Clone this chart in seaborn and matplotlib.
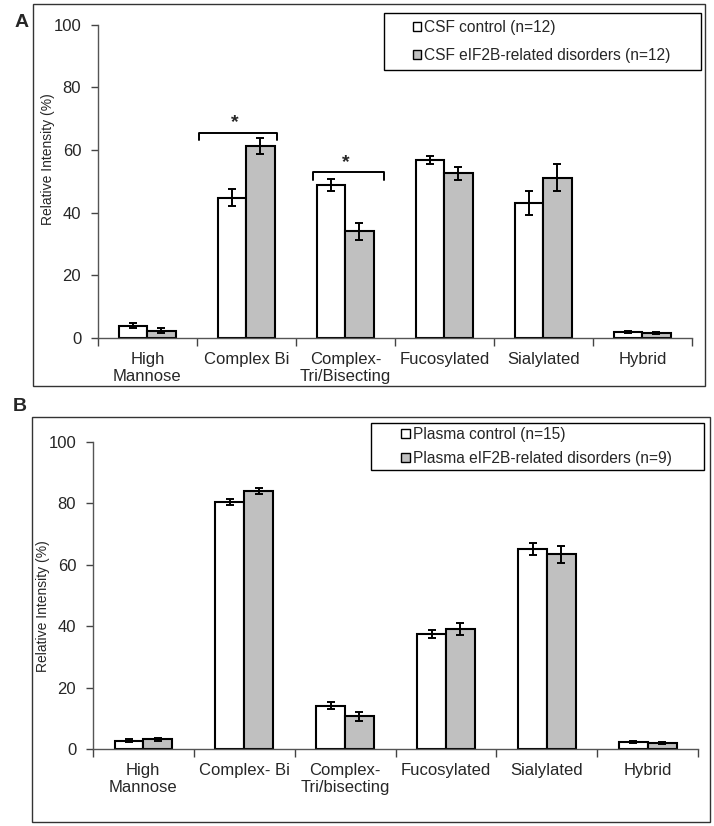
import numpy as np
import pandas as pd
import matplotlib
matplotlib.use('Agg')
import matplotlib.pyplot as plt
from matplotlib.patches import Rectangle, Patch
import seaborn as sns

# data
cats_a = ["High\nMannose", "Complex Bi", "Complex-\nTri/Bisecting", "Fucosylated", "Sialylated", "Hybrid"]
csf_ctrl = [3.9, 44.8, 48.7, 56.9, 43.0, 1.9]
csf_ctrl_err = [0.9, 2.7, 1.9, 1.3, 3.8, 0.4]
csf_dis = [2.3, 61.3, 34.0, 52.5, 51.1, 1.6]
csf_dis_err = [0.8, 2.6, 2.6, 2.1, 4.3, 0.3]
groups_a = ["CSF control (n=12)", "CSF eIF2B-related disorders (n=12)"]

cats_b = ["High\nMannose", "Complex- Bi", "Complex-\nTri/bisecting", "Fucosylated", "Sialylated", "Hybrid"]
pl_ctrl = [2.8, 80.5, 14.2, 37.5, 65.2, 2.4]
pl_ctrl_err = [0.5, 0.9, 1.0, 1.25, 1.9, 0.3]
pl_dis = [3.2, 84.1, 10.7, 39.1, 63.4, 2.1]
pl_dis_err = [0.6, 1.0, 1.4, 1.9, 2.8, 0.3]
groups_b = ["Plasma control (n=15)", "Plasma eIF2B-related disorders (n=9)"]

# significance brackets for panel A: (x_left, x_right, y_top, y_leg, x_star)
brackets_a = [(0.52, 1.31, 65.5, 63.3, 0.88), (1.67, 2.39, 52.9, 50.5, 2.0)]

sns.set_style("ticks")
plt.rcParams['font.family'] = ['Liberation Sans', 'DejaVu Sans']

colors = ["white", "#C0C0C0"]


def make_df(cats, groups, v1, v2):
    return pd.DataFrame({
        "category": cats + cats,
        "group": [groups[0]] * len(cats) + [groups[1]] * len(cats),
        "value": v1 + v2,
    })


def draw_panel(ax, cats, groups, v1, e1, v2, e2, legend_box, spacing, ylab_pos):
    df = make_df(cats, groups, v1, v2)
    sns.barplot(data=df, x="category", y="value", hue="group", palette=colors,
                edgecolor="black", linewidth=1.5, width=0.57, errorbar=None,
                legend=False, ax=ax)
    for cont, err in zip(ax.containers, [e1, e2]):
        xs = [p.get_x() + p.get_width() / 2 for p in cont]
        ys = [p.get_height() for p in cont]
        ax.errorbar(xs, ys, yerr=err, fmt='none', ecolor='black',
                    elinewidth=1.4, capsize=3, capthick=1.4)
    ax.set_ylim(0, 100)
    ax.set_xlim(-0.5, len(cats) - 0.5)
    ax.set_yticks([0, 20, 40, 60, 80, 100])
    ax.set_xticks(np.arange(len(cats)))
    ax.set_xticklabels(cats)
    ax.set_xticks(np.arange(len(cats) + 1) - 0.5, minor=True)
    ax.tick_params(axis='x', which='major', length=0, pad=10, labelsize=12)
    ax.tick_params(axis='x', which='minor', length=6, width=1, color='#444444')
    ax.tick_params(axis='y', length=5, width=1, color='#444444', labelsize=12, pad=7)
    ax.set_xlabel("")
    ax.set_ylabel("Relative Intensity (%)", fontsize=10)
    ax.yaxis.set_label_coords(*ylab_pos)
    for s in ['left', 'bottom']:
        ax.spines[s].set_color('#555555')
        ax.spines[s].set_linewidth(1)
    sns.despine(ax=ax)

    # legend with a separate frame
    bx, by, bw, bh = legend_box
    ax.add_patch(Rectangle((bx, by), bw, bh, transform=ax.transAxes,
                           facecolor='white', edgecolor='black', linewidth=1,
                           clip_on=False, zorder=5))
    handles = [Patch(facecolor=c, edgecolor='black', linewidth=1) for c in colors]
    leg = ax.legend(handles, groups, loc='center left',
                    bbox_to_anchor=(bx + 0.049, by + bh / 2), frameon=False,
                    fontsize=11.2, handlelength=0.55, handleheight=0.55,
                    handletextpad=0.2, labelspacing=spacing, borderaxespad=0,
                    borderpad=0)
    leg.set_zorder(6)


fig = plt.figure(figsize=(7.14, 8.26), dpi=100)

# panel boxes
fig.patches.append(Rectangle((0.046, 0.533), 0.941, 0.462, transform=fig.transFigure,
                             fill=False, edgecolor='#333333', linewidth=1))
fig.patches.append(Rectangle((0.045, 0.005), 0.950, 0.490, transform=fig.transFigure,
                             fill=False, edgecolor='#333333', linewidth=1))

ax_a = fig.add_axes([0.137, 0.591, 0.832, 0.379])
ax_b = fig.add_axes([0.130, 0.093, 0.848, 0.372])

draw_panel(ax_a, cats_a, groups_a, csf_ctrl, csf_ctrl_err, csf_dis, csf_dis_err,
           (0.481, 0.854, 0.534, 0.185), 0.8, (-0.072, 0.57))
draw_panel(ax_b, cats_b, groups_b, pl_ctrl, pl_ctrl_err, pl_dis, pl_dis_err,
           (0.460, 0.908, 0.549, 0.153), 0.59, (-0.071, 0.464))

for x0, x1, yt, yl, xs in brackets_a:
    ax_a.plot([x0, x0, x1, x1], [yl, yt, yt, yl], color='black', linewidth=1.4)
    ax_a.text(xs, yt + 0.5, "*", ha='center', va='bottom', fontsize=14, fontweight='bold')

fig.text(0.020, 0.973, "A", fontsize=14, fontweight='bold', ha='left', va='center')
fig.text(0.018, 0.508, "B", fontsize=14, fontweight='bold', ha='left', va='center')

fig.savefig("out.png", dpi=100)
